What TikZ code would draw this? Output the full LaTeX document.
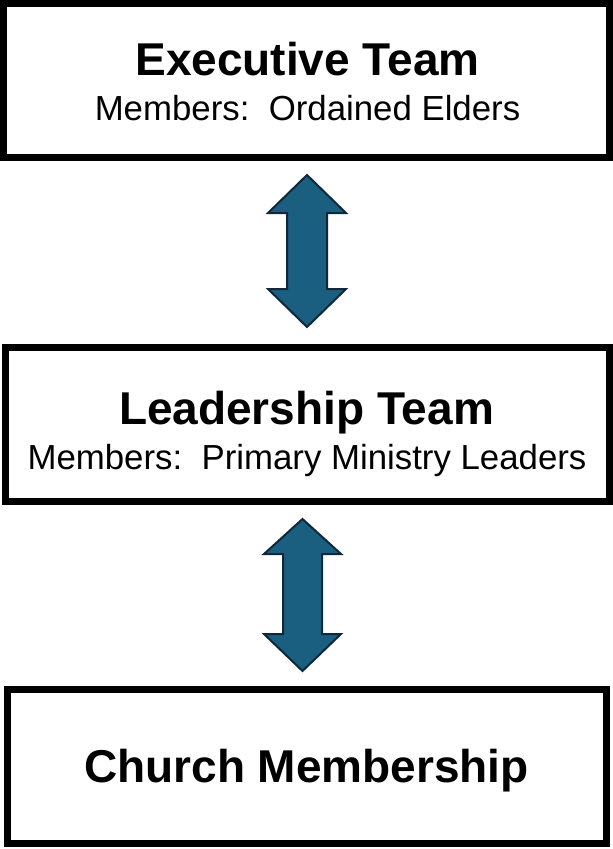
\documentclass[tikz,border=0pt]{standalone}
\usepackage{fontspec}
\setmainfont{Liberation Sans}
\definecolor{arrowfill}{HTML}{1A5E80}
\definecolor{arrowline}{HTML}{10293A}
\tikzset{
  box/.style={draw=black, line width=7pt, rectangle, inner sep=0pt, fill=white},
  titletext/.style={anchor=base, inner sep=0pt, font=\fontsize{46}{50}\selectfont\bfseries},
  subtext/.style={anchor=base, inner sep=0pt, font=\fontsize{34.8}{40}\selectfont},
  blockarrow/.style={fill=arrowfill, draw=arrowline, line width=2pt, line join=miter}
}
\begin{document}
\begin{tikzpicture}[x=1pt, y=-1pt]
\useasboundingbox (0,0) rectangle (613,849);
% boxes
\node[box, minimum width=606pt, minimum height=154pt] (exec) at (306.5,80.5) {};
\node[box, minimum width=604pt, minimum height=154pt] (lead) at (307.5,424.5) {};
\node[box, minimum width=599pt, minimum height=154pt] (church) at (307,766.5) {};
% texts
\node[titletext] (exectitle) at (307.5,75) {Executive Team};
\node[subtext] (execsub) at (307.5,120) {Members:\ \ Ordained Elders};
\node[titletext] (leadtitle) at (306.5,424) {Leadership Team};
\node[subtext] (leadsub) at (307,469) {Members:\ \ Primary Ministry Leaders};
\node[titletext] (churchtitle) at (306.5,782) {Church Membership};
% double arrows
\draw[blockarrow] (307,175) -- (346,213) -- (327,213) -- (327,289) -- (346,289) -- (307,327)
  -- (268,289) -- (287,289) -- (287,213) -- (268,213) -- cycle;
\draw[blockarrow] (302.5,519) -- (341,554) -- (322,554) -- (322,634) -- (341,634) -- (302.5,671)
  -- (264,634) -- (283,634) -- (283,554) -- (264,554) -- cycle;
\end{tikzpicture}
\end{document}
